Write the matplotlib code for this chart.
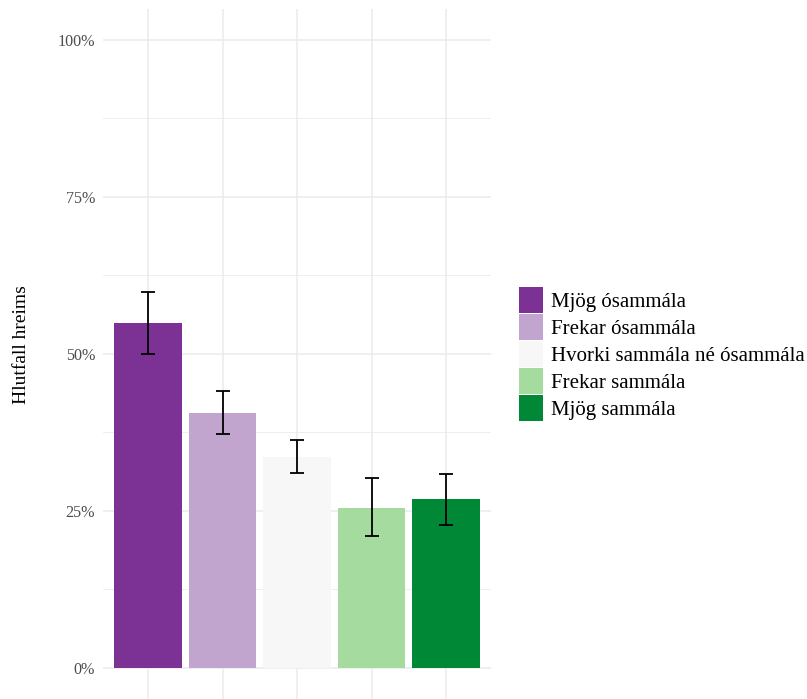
import matplotlib
matplotlib.use("Agg")
import matplotlib.pyplot as plt
from matplotlib.ticker import FixedLocator, FuncFormatter

plt.rcParams['font.family'] = ['Liberation Serif', 'DejaVu Serif']

# gögn
categories = ["Mjög ósammála", "Frekar ósammála", "Hvorki sammála né ósammála",
              "Frekar sammála", "Mjög sammála"]
values = [54.9, 40.6, 33.5, 25.5, 26.8]
err_low = [49.9, 37.3, 31.0, 20.9, 22.7]
err_high = [59.8, 44.1, 36.3, 30.2, 30.9]
colors = ["#7B3294", "#C2A5CF", "#F7F7F7", "#A6DBA0", "#008837"]
y_ticks = [0, 25, 50, 75, 100]
y_minor = [12.5, 37.5, 62.5, 87.5]

fig = plt.figure(figsize=(8.07, 6.99), dpi=100)
ax = fig.add_axes([103.3 / 807, 0, (490.7 - 103.3) / 807, 1 - 8.6 / 699])

x = list(range(1, len(categories) + 1))
bars = ax.bar(x, values, width=0.9, color=colors, label=categories, zorder=2)

yerr = [[v - lo for v, lo in zip(values, err_low)],
        [hi - v for v, hi in zip(values, err_high)]]
ax.errorbar(x, values, yerr=yerr, fmt='none', ecolor='black',
            elinewidth=1.3, capsize=5, capthick=1.3, zorder=3)

ax.set_xlim(0.4, 5.6)
ax.set_ylim(-5, 105)
ax.set_xticks(x)
ax.yaxis.set_major_locator(FixedLocator(y_ticks))
ax.yaxis.set_minor_locator(FixedLocator(y_minor))
ax.yaxis.set_major_formatter(FuncFormatter(lambda v, p: f"{int(v)}%"))

ax.grid(True, which='major', color='#EBEBEB', linewidth=1.1, zorder=0)
ax.grid(True, which='minor', axis='y', color='#EBEBEB', linewidth=0.6, zorder=0)
ax.set_axisbelow(True)
for s in ax.spines.values():
    s.set_visible(False)
ax.tick_params(axis='both', which='both', length=0)
ax.tick_params(axis='x', labelbottom=False)
ax.tick_params(axis='y', labelsize=11.6, labelcolor='#4D4D4D', pad=6)

fig.text(22 / 807, 1 - 345 / 699, "Hlutfall hreims", rotation=90,
         fontsize=14, va='center', ha='center')

fs = 15
px = fs * 100 / 72
leg = ax.legend(handles=list(bars), labels=categories, loc='upper left',
                bbox_to_anchor=(519 / 807, 1 - 287 / 699),
                bbox_transform=fig.transFigure, frameon=False, fontsize=fs,
                handlelength=24 / px, handleheight=31.5 / px,
                labelspacing=1.5 / px, handletextpad=8 / px,
                borderpad=0, borderaxespad=0)

fig.savefig("out.png", dpi=100)
